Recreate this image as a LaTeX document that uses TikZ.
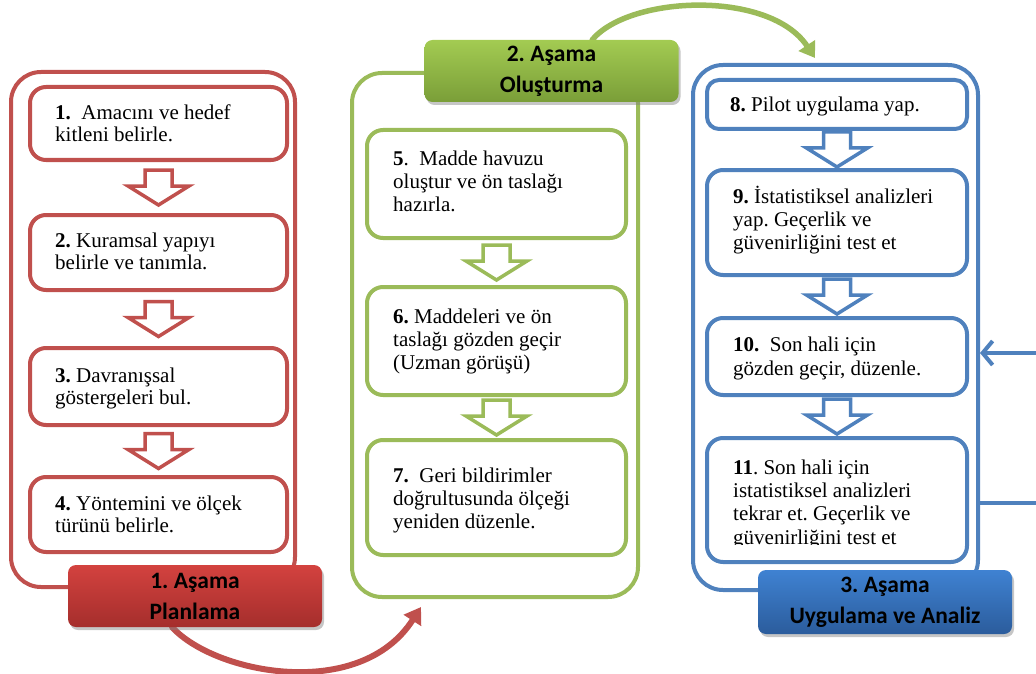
\documentclass[tikz,border=0pt]{standalone}
\usepackage{fontspec}
\setmainfont{Liberation Serif}
\newfontfamily\labelfont{Carlito}
\usetikzlibrary{calc,shadows,arrows.meta,backgrounds}
\frenchspacing

\definecolor{redline}{HTML}{C0504D}
\definecolor{greenline}{HTML}{9BBB59}
\definecolor{blueline}{HTML}{4F81BD}
\definecolor{redtop}{HTML}{D3423F}
\definecolor{redbot}{HTML}{A52E2C}
\definecolor{greentop}{HTML}{A3CB52}
\definecolor{greenbot}{HTML}{7A9E38}
\definecolor{bluetop}{HTML}{3F82D2}
\definecolor{bluebot}{HTML}{2B5C9C}

\tikzset{
  frame/.style={draw, line width=4, rounded corners=30},
  stepbox/.style={draw, fill=white, line width=4, rounded corners=16},
  % multi-line texts are placed by the baseline of their last line
  steptext/.style={anchor=base west, align=left, inner sep=0,
    font=\fontsize{21}{23.3}\selectfont},
  steptextred/.style={steptext, font=\fontsize{21}{22}\selectfont},
  blockarrow/.style={draw, fill=white, line width=3.5, line join=miter},
  phase/.style={rounded corners=8, align=center, text=black, inner sep=0,
    minimum width=254, minimum height=62,
    font=\labelfont\bfseries\fontsize{23.5}{31}\selectfont,
    drop shadow={opacity=0.45, shadow xshift=2pt, shadow yshift=-3pt}},
  stagecurve/.style={line width=5.5, line cap=round},
  feedback/.style={draw=blueline, line width=4}
}

% box node from its corners (x1,y1) -- (x2,y2)
\newcommand\boxat[6]{%
  \node[#6, minimum width={#4-#2}, minimum height={#5-#3}, inner sep=0]
    (#1) at ({(#2+#4)/2},{(#3+#5)/2}) {};}

% hollow block arrow between two stacked boxes
\newcommand\downarrowbetween[3]{%
  \draw[blockarrow, draw=#1] ($(#2.south)!0.5!(#3.north)$) ++(-13.5,-17.5)
    -- ++(27,0) -- ++(0,16) -- ++(17,0) -- ++(-30.5,19)
    -- ++(-30.5,-19) -- ++(17,0) -- cycle;}

\begin{document}
\begin{tikzpicture}[x=1pt, y=-1pt]
\useasboundingbox (0,0) rectangle (1036,674);

% ---------- stage 1: planning ----------
\boxat{frame1}{11}{72}{295}{587}{frame, draw=redline}
\boxat{r1}{30}{87}{287}{160}{stepbox, draw=redline}
\boxat{r2}{30}{215}{287}{290}{stepbox, draw=redline}
\boxat{r3}{30}{348}{287}{425}{stepbox, draw=redline}
\boxat{r4}{30}{477}{287}{552}{stepbox, draw=redline}
\downarrowbetween{redline}{r1}{r2}
\downarrowbetween{redline}{r2}{r3}
\downarrowbetween{redline}{r3}{r4}
\node[steptextred] (t1) at (55,142) {\textbf{1.}\ \ Amacını ve hedef\\kitleni belirle.};
\node[steptextred] (t2) at (55,269) {\textbf{2.} Kuramsal yapıyı\\belirle ve tanımla.};
\node[steptextred] (t3) at (55,404) {\textbf{3.} Davranışsal\\göstergeleri bul.};
\node[steptextred] (t4) at (55,532) {\textbf{4.} Yöntemini ve ölçek\\türünü belirle.};
\node[phase, top color=redtop, bottom color=redbot] (lbl1) at (195,596)
  {1. Aşama\\Planlama};

% ---------- stage 2: construction ----------
\boxat{frame2}{352}{73}{638}{597}{frame, draw=greenline}
\boxat{g5}{367}{130}{626}{238}{stepbox, draw=greenline}
\boxat{g6}{367}{287}{626}{395}{stepbox, draw=greenline}
\boxat{g7}{367}{440}{626}{555}{stepbox, draw=greenline}
\downarrowbetween{greenline}{g5}{g6}
\downarrowbetween{greenline}{g6}{g7}
\node[steptext] (t5) at (393,211.6) {\textbf{5}.\ \ Madde havuzu\\oluştur ve ön taslağı\\hazırla.};
\node[steptext] (t6) at (393,369.6) {\textbf{6.} Maddeleri ve ön\\taslağı gözden geçir\\(Uzman görüşü)};
\node[steptext] (t7) at (393,528.6) {\textbf{7.}\ \ Geri bildirimler\\doğrultusunda ölçeği\\yeniden düzenle.};
\node[phase, top color=greentop, bottom color=greenbot] (lbl2) at (551.5,71)
  {2. Aşama\\Oluşturma};

% ---------- stage 3: application and analysis ----------
\boxat{frame3}{693}{65}{978}{590}{frame, draw=blueline}
\boxat{b8}{707}{80}{967}{129}{stepbox, draw=blueline, rounded corners=12}
\boxat{b9}{707}{170}{967}{275}{stepbox, draw=blueline}
\boxat{b10}{707}{318}{967}{395}{stepbox, draw=blueline}
\boxat{b11}{707}{438}{967}{562}{stepbox, draw=blueline}
\downarrowbetween{blueline}{b8}{b9}
\downarrowbetween{blueline}{b9}{b10}
\downarrowbetween{blueline}{b10}{b11}
\node[steptext] (t8) at (730,112) {\textbf{8.} Pilot uygulama yap.};
\node[steptext] (t9) at (733,249.6) {\textbf{9.} İstatistiksel analizleri\\yap. Geçerlik ve\\güvenirliğini test et};
\node[steptext] (t10) at (733,375) {\textbf{10.}\ \ Son hali için\\gözden geçir, düzenle.};
% the last line of this box is cut off at the bottom of its text area
\begin{scope}
  \clip (b11.north west) rectangle ($(b11.south east)+(0,-19.5)$);
  \node[steptext] (t11) at (733,544) {\textbf{11}. Son hali için\\istatistiksel analizleri\\tekrar et. Geçerlik ve\\güvenirliğini test et};
\end{scope}
\node[phase, top color=bluetop, bottom color=bluebot, minimum height=64] (lbl3)
  at (885,602) {3. Aşama\\Uygulama ve Analiz};

% feedback loop back into stage 3
\coordinate (fbLow) at (1039,503);
\coordinate (fbHigh) at (1039,353);
\draw[feedback, -{Straight Barb[length=10pt, width=24pt]}]
  (frame3.east |- fbLow) -- (fbLow) -- (fbHigh) -- (frame3.east |- fbHigh);

% stage-to-stage curved arrows
\begin{pgfonlayer}{background}
\draw[stagecurve, line width=6, draw=redline, -{Triangle[length=16pt, width=20pt]}]
  ($(lbl1.south west)!0.41!(lbl1.south east)$)
  .. controls (215,674) and (360,702) .. ($(frame2.south west)+(71,8)$);
\draw[stagecurve, draw=greenline, -{Triangle[length=15pt, width=19pt]}]
  ($(lbl2.north west)!0.66!(lbl2.north east)$)
  .. controls (630,-5) and (770,-10) .. ($(frame3.north west)+(124,-5)$);
\end{pgfonlayer}
\end{tikzpicture}
\end{document}
